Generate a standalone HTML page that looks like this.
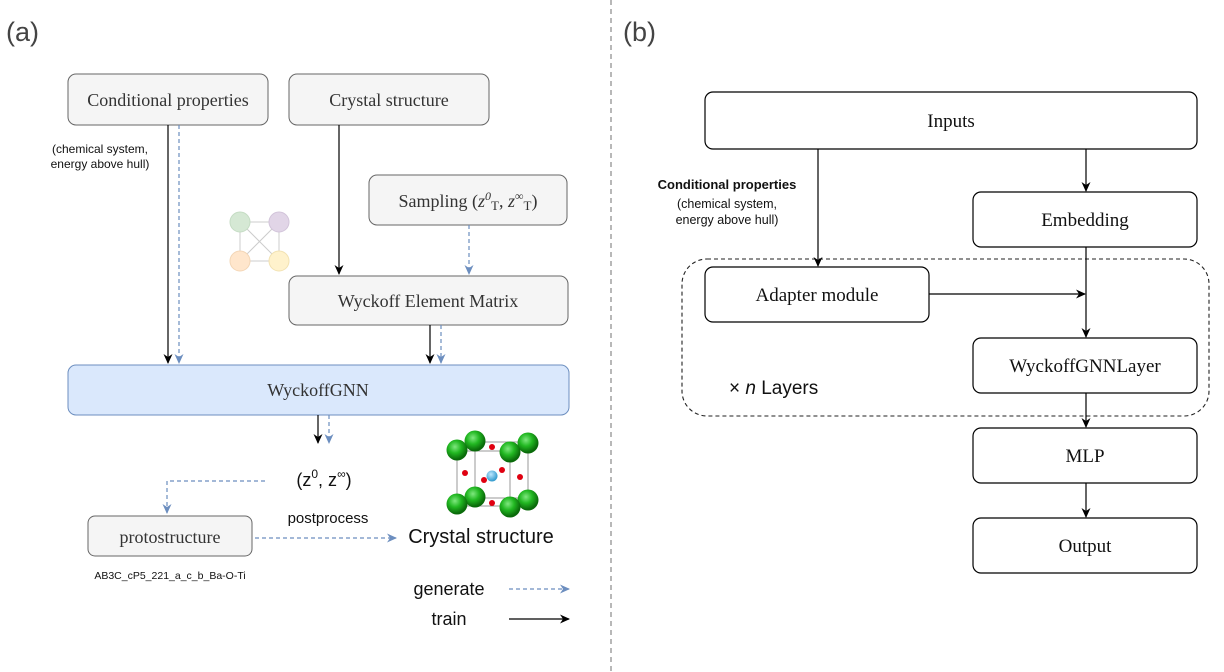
<!DOCTYPE html>
<html><head><meta charset="utf-8"><style>
html,body{margin:0;padding:0;background:#fff;}
svg{display:block;}
.serif{font-family:"Liberation Serif",serif;}
.sans{font-family:"Liberation Sans",sans-serif;}
</style></head><body>
<svg width="1224" height="672" viewBox="0 0 1224 672" xmlns="http://www.w3.org/2000/svg">
<defs>
<marker id="ak" markerWidth="12" markerHeight="12" refX="9" refY="5.5" orient="auto" markerUnits="userSpaceOnUse"><path d="M0,1 L10,5.5 L0,10 L3,5.5 Z" fill="#000"/></marker>
<marker id="ab" markerWidth="12" markerHeight="12" refX="9" refY="5.5" orient="auto" markerUnits="userSpaceOnUse"><path d="M0,1 L10,5.5 L0,10 L3,5.5 Z" fill="#6c8ebf"/></marker>
<radialGradient id="gg" cx="0.4" cy="0.35" r="0.6"><stop offset="0" stop-color="#7fe87f"/><stop offset="0.5" stop-color="#22b822"/><stop offset="1" stop-color="#0a6a0a"/></radialGradient>
<radialGradient id="gb" cx="0.4" cy="0.35" r="0.6"><stop offset="0" stop-color="#bfe8ff"/><stop offset="1" stop-color="#3a9fd0"/></radialGradient>
</defs>
<line x1="611" y1="0" x2="611" y2="672" stroke="#888" stroke-width="1.2" stroke-dasharray="5,4"/>
<text x="6" y="41" class="sans" font-size="27" fill="#444">(a)</text>
<text x="623" y="41" class="sans" font-size="27" fill="#444">(b)</text>

<g class="serif" font-size="18" fill="#333" text-anchor="middle">
<rect x="68" y="74" width="200" height="51" rx="8" fill="#f5f5f5" stroke="#666"/>
<text x="168" y="106">Conditional properties</text>
<rect x="289" y="74" width="200" height="51" rx="8" fill="#f5f5f5" stroke="#666"/>
<text x="389" y="106">Crystal structure</text>
<rect x="369" y="175" width="198" height="50" rx="8" fill="#f5f5f5" stroke="#666"/>
<text x="468" y="207">Sampling (<tspan font-style="italic">z</tspan><tspan font-style="italic" font-size="12" dy="-7">0</tspan><tspan font-size="13" dy="10">T</tspan><tspan dy="-3">, </tspan><tspan font-style="italic">z</tspan><tspan font-size="12" dy="-7">∞</tspan><tspan font-size="13" dy="10">T</tspan><tspan dy="-3">)</tspan></text>
<rect x="289" y="276" width="279" height="49" rx="8" fill="#f5f5f5" stroke="#666"/>
<text x="428" y="307">Wyckoff Element Matrix</text>
<rect x="68" y="365" width="501" height="50" rx="8" fill="#dae8fc" stroke="#6c8ebf"/>
<text x="318" y="396">WyckoffGNN</text>
<rect x="88" y="516" width="164" height="40" rx="7" fill="#f5f5f5" stroke="#666"/>
<text x="170" y="543">protostructure</text>
</g>
<g class="sans" fill="#111" text-anchor="middle">
<text x="100" y="153" font-size="12">(chemical system,</text>
<text x="100" y="168" font-size="12">energy above hull)</text>
<text x="170" y="579" font-size="10.5">AB3C_cP5_221_a_c_b_Ba-O-Ti</text>
<text x="324" y="486" font-size="18">(z<tspan font-size="12" dy="-8">0</tspan><tspan dy="8">, z</tspan><tspan font-size="12" dy="-8">∞</tspan><tspan dy="8">)</tspan></text>
<text x="328" y="523" font-size="15">postprocess</text>
<text x="481" y="543" font-size="20">Crystal structure</text>
<text x="449" y="595" font-size="18">generate</text>
<text x="449" y="625" font-size="18">train</text>
</g>
<g fill="none" stroke-width="1.2">
<line x1="168" y1="125" x2="168" y2="363" stroke="#000" marker-end="url(#ak)"/>
<line x1="179" y1="125" x2="179" y2="363" stroke="#6c8ebf" stroke-dasharray="4,3" marker-end="url(#ab)"/>
<line x1="339" y1="125" x2="339" y2="274" stroke="#000" marker-end="url(#ak)"/>
<line x1="469" y1="225" x2="469" y2="274" stroke="#6c8ebf" stroke-dasharray="4,3" marker-end="url(#ab)"/>
<line x1="430" y1="325" x2="430" y2="363" stroke="#000" marker-end="url(#ak)"/>
<line x1="441" y1="325" x2="441" y2="363" stroke="#6c8ebf" stroke-dasharray="4,3" marker-end="url(#ab)"/>
<line x1="318" y1="415" x2="318" y2="443" stroke="#000" marker-end="url(#ak)"/>
<line x1="329" y1="415" x2="329" y2="443" stroke="#6c8ebf" stroke-dasharray="4,3" marker-end="url(#ab)"/>
<polyline points="265,481 167,481 167,513" stroke="#6c8ebf" stroke-dasharray="4,3" marker-end="url(#ab)"/>
<line x1="255" y1="538" x2="396" y2="538" stroke="#6c8ebf" stroke-dasharray="4,3" marker-end="url(#ab)"/>
<line x1="509" y1="589" x2="569" y2="589" stroke="#6c8ebf" stroke-dasharray="4,3" marker-end="url(#ab)"/>
<line x1="509" y1="619" x2="569" y2="619" stroke="#000" marker-end="url(#ak)"/>
</g>
<g stroke="#ccc" stroke-width="1">
<line x1="240" y1="222" x2="279" y2="222"/><line x1="240" y1="261" x2="279" y2="261"/>
<line x1="240" y1="222" x2="240" y2="261"/><line x1="279" y1="222" x2="279" y2="261"/>
<line x1="240" y1="222" x2="279" y2="261"/><line x1="279" y1="222" x2="240" y2="261"/>
</g>
<circle cx="240" cy="222" r="10" fill="#d5e8d4" stroke="#c5dcc4"/>
<circle cx="279" cy="222" r="10" fill="#e1d5e7" stroke="#d2c4da"/>
<circle cx="240" cy="261" r="10" fill="#ffe6cc" stroke="#f3d6b6"/>
<circle cx="279" cy="261" r="10" fill="#fff2cc" stroke="#f2e2b2"/>
<g stroke="#999" stroke-width="1" fill="none">
<rect x="475" y="442" width="53" height="56"/>
<rect x="457" y="451" width="53" height="55"/>
<line x1="457" y1="451" x2="475" y2="442"/><line x1="510" y1="451" x2="528" y2="442"/>
<line x1="457" y1="506" x2="475" y2="498"/><line x1="510" y1="506" x2="528" y2="498"/>
</g>
<circle cx="492" cy="476" r="5.5" fill="url(#gb)"/>
<g fill="#e00010"><circle cx="492" cy="447" r="3"/><circle cx="465" cy="473" r="3"/><circle cx="484" cy="480" r="3"/><circle cx="502" cy="470" r="3"/><circle cx="520" cy="477" r="3"/><circle cx="492" cy="503" r="3"/></g>
<g fill="url(#gg)"><circle cx="475" cy="441" r="10.5"/><circle cx="528" cy="443" r="10.5"/><circle cx="457" cy="450" r="10.5"/><circle cx="510" cy="452" r="10.5"/>
<circle cx="475" cy="497" r="10.5"/><circle cx="528" cy="500" r="10.5"/><circle cx="457" cy="504" r="10.5"/><circle cx="510" cy="507" r="10.5"/></g>

<rect x="682" y="259" width="527" height="157" rx="25" fill="none" stroke="#222" stroke-width="1.1" stroke-dasharray="4,3"/>
<g class="serif" font-size="19" fill="#111" text-anchor="middle">
<rect x="705" y="92" width="492" height="57" rx="8" fill="#fff" stroke="#000" stroke-width="1.2"/>
<text x="951" y="127">Inputs</text>
<rect x="973" y="192" width="224" height="55" rx="8" fill="#fff" stroke="#000" stroke-width="1.2"/>
<text x="1085" y="226">Embedding</text>
<rect x="705" y="267" width="224" height="55" rx="8" fill="#fff" stroke="#000" stroke-width="1.2"/>
<text x="817" y="301">Adapter module</text>
<rect x="973" y="338" width="224" height="55" rx="8" fill="#fff" stroke="#000" stroke-width="1.2"/>
<text x="1085" y="372">WyckoffGNNLayer</text>
<rect x="973" y="428" width="224" height="55" rx="8" fill="#fff" stroke="#000" stroke-width="1.2"/>
<text x="1085" y="462">MLP</text>
<rect x="973" y="518" width="224" height="55" rx="8" fill="#fff" stroke="#000" stroke-width="1.2"/>
<text x="1085" y="552">Output</text>
</g>
<g class="sans" fill="#111" text-anchor="middle" font-size="12.5">
<text x="727" y="189" font-weight="bold" font-size="13">Conditional properties</text>
<text x="727" y="208">(chemical system,</text>
<text x="727" y="224">energy above hull)</text>
</g>
<text x="729" y="394" class="sans" font-size="19" fill="#111">× <tspan font-style="italic">n</tspan> Layers</text>
<g fill="none" stroke="#000" stroke-width="1.2">
<line x1="818" y1="149" x2="818" y2="266" marker-end="url(#ak)"/>
<line x1="1086" y1="149" x2="1086" y2="191" marker-end="url(#ak)"/>
<line x1="1086" y1="247" x2="1086" y2="337" marker-end="url(#ak)"/>
<line x1="929" y1="294" x2="1085" y2="294" marker-end="url(#ak)"/>
<line x1="1086" y1="393" x2="1086" y2="427" marker-end="url(#ak)"/>
<line x1="1086" y1="483" x2="1086" y2="517" marker-end="url(#ak)"/>
</g>
</svg>
</body></html>
